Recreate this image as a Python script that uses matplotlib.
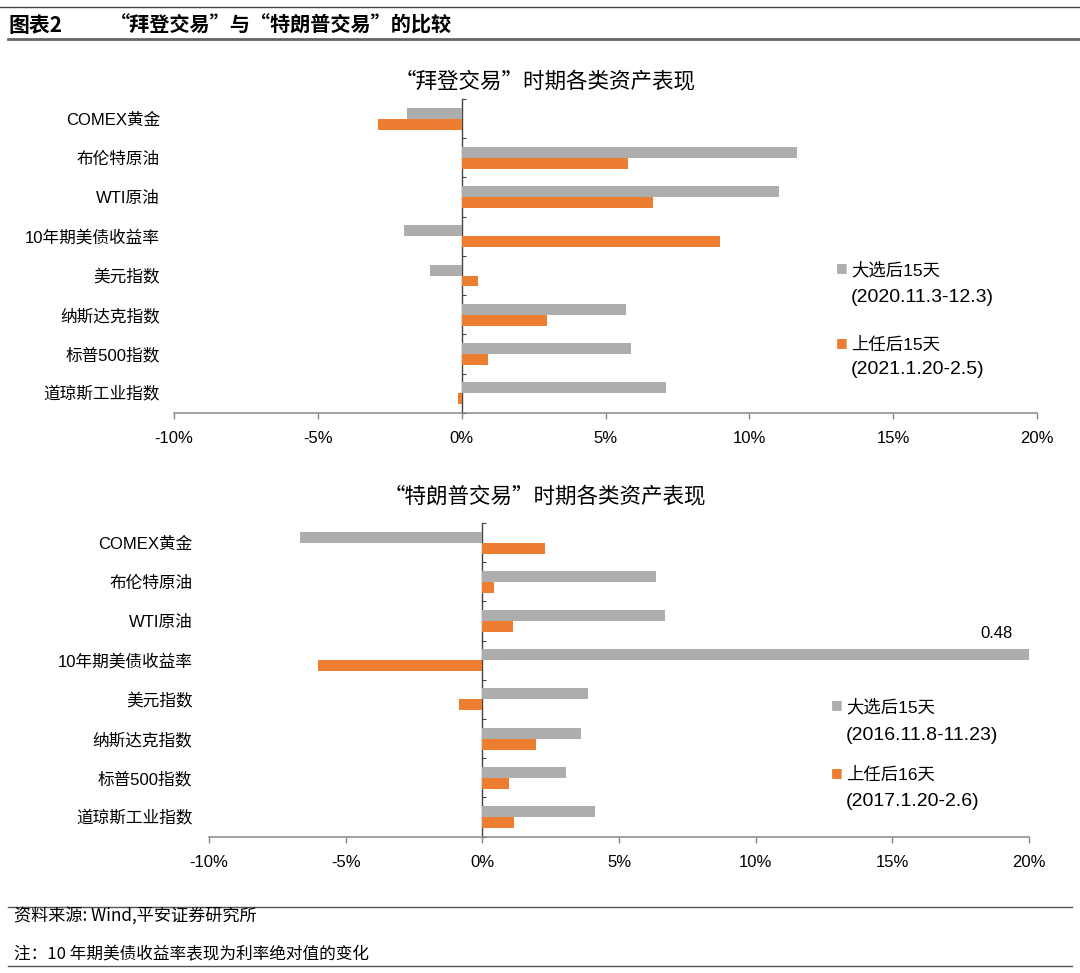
import matplotlib
matplotlib.use("Agg")
import matplotlib.pyplot as plt
from matplotlib.ticker import PercentFormatter

plt.rcParams['font.family'] = ['Liberation Sans', 'Noto Sans CJK SC']
plt.rcParams['axes.unicode_minus'] = False

# --- datos ---
categorias = ['COMEX黄金', '布伦特原油', 'WTI原油', '10年期美债收益率',
              '美元指数', '纳斯达克指数', '标普500指数', '道琼斯工业指数']

# "拜登交易"
biden_daxuan = [-0.019, 0.1167, 0.1104, -0.020, -0.011, 0.057, 0.059, 0.0712]
biden_shangren = [-0.029, 0.0579, 0.0666, 0.0899, 0.0058, 0.0297, 0.009, -0.0013]

# "特朗普交易"
trump_daxuan = [-0.0667, 0.0634, 0.0667, 0.48, 0.0388, 0.0362, 0.0305, 0.0412]
trump_shangren = [0.0228, 0.0043, 0.0114, -0.060, -0.0087, 0.0195, 0.0096, 0.0116]

titulos = ['“拜登交易”时期各类资产表现', '“特朗普交易”时期各类资产表现']
leyendas = [('大选后15天', '(2020.11.3-12.3)', '上任后15天', '(2021.1.20-2.5)'),
            ('大选后15天', '(2016.11.8-11.23)', '上任后16天', '(2017.1.20-2.6)')]

GRIS = '#ADADAD'
NARANJA = '#ED7D31'
XMIN, XMAX = -0.10, 0.20

W, H = 1080, 973
fig = plt.figure(figsize=(W / 100, H / 100), dpi=100)


def fx(px):
    return px / W


def fy(py):
    return 1 - py / H


def panel(rect_px, serie1, serie2, titulo, ley, title_y, ley_px, lab_pad):
    l, t, r, b = rect_px
    ax = fig.add_axes([fx(l), fy(b), (r - l) / W, (b - t) / H])
    y = list(range(len(categorias)))
    h = 0.28
    ax.barh([v - h / 2 for v in y], serie1, height=h, color=GRIS)
    ax.barh([v + h / 2 for v in y], serie2, height=h, color=NARANJA)
    ax.set_xlim(XMIN, XMAX)
    ax.set_ylim(len(categorias) - 0.5, -0.5)
    ax.xaxis.set_major_formatter(PercentFormatter(1.0, decimals=0))
    ax.set_xticks([-0.10, -0.05, 0, 0.05, 0.10, 0.15, 0.20])
    ax.tick_params(axis='x', labelsize=12, length=4, width=1, color='#888888', pad=9)
    ax.set_yticks(y)
    ax.set_yticklabels(categorias)
    ax.tick_params(axis='y', labelsize=12, length=0, pad=lab_pad)
    for s in ['top', 'right', 'left']:
        ax.spines[s].set_visible(False)
    ax.spines['bottom'].set_color('#888888')
    ax.spines['bottom'].set_linewidth(1.1)

    # eje vertical en cero
    pos0 = (0 - XMIN) / (XMAX - XMIN)
    sec = ax.secondary_yaxis(pos0)
    sec.set_yticks([v - 0.5 for v in y] + [len(y) - 0.5])
    sec.set_yticklabels([])
    sec.tick_params(direction='in', length=3, width=0.8, color='#444444')
    sec.spines['left'].set_color('#444444')
    sec.spines['left'].set_linewidth(1.0)

    # valores fuera de escala
    for i, v in enumerate(serie1):
        if v > XMAX:
            ax.annotate(f'{v:.2f}', xy=(XMAX, i - h / 2), xytext=(-11.5, 15),
                        textcoords='offset points', ha='right', va='center', fontsize=12)

    fig.text(fx(545), fy(title_y), titulo, ha='center', va='center', fontsize=15.5,
             family=['Noto Sans CJK SC', 'DejaVu Sans'])

    # leyenda
    sx, tx, y1, y2, y3, y4 = ley_px
    fig.text(fx(sx), fy(y1), '■', color=GRIS, ha='center', va='center', fontsize=9,
             family=['DejaVu Sans'])
    fig.text(fx(sx), fy(y3), '■', color=NARANJA, ha='center', va='center', fontsize=9,
             family=['DejaVu Sans'])
    fig.text(fx(tx), fy(y1 + 2), ley[0], ha='left', va='center', fontsize=12.5)
    fig.text(fx(tx), fy(y2), ley[1], ha='left', va='center', fontsize=14)
    fig.text(fx(tx), fy(y3 + 2), ley[2], ha='left', va='center', fontsize=12.5)
    fig.text(fx(tx), fy(y4), ley[3], ha='left', va='center', fontsize=14)
    return ax


panel((174, 99, 1037, 412.8), biden_daxuan, biden_shangren, titulos[0], leyendas[0],
      82, (842, 851, 268, 297, 343, 370), 10)
panel((209, 523, 1029, 836.6), trump_daxuan, trump_shangren, titulos[1], leyendas[1],
      497, (837, 846, 705, 735, 773, 802), 12)

# --- encabezado y pie ---
fig.add_artist(plt.Line2D([0, 1], [fy(7), fy(7)], color='#444444', lw=1.0))
fig.add_artist(plt.Line2D([fx(8), 1], [fy(39), fy(39)], color='#666666', lw=2.0))
fig.text(fx(8), fy(25), '图表2', fontsize=15, fontweight='bold', va='center',
         family=['Noto Sans CJK SC', 'DejaVu Sans'])
fig.text(fx(110), fy(25), '“拜登交易”与“特朗普交易”的比较', fontsize=14.5, fontweight='bold',
         va='center', family=['Noto Sans CJK SC', 'DejaVu Sans'])

fig.add_artist(plt.Line2D([fx(8), fx(1072)], [fy(907), fy(907)], color='#555555', lw=1.0))
fig.add_artist(plt.Line2D([fx(8), fx(1072)], [fy(966), fy(966)], color='#555555', lw=1.0))
fig.text(fx(14), fy(917), '资料来源: Wind,平安证券研究所', fontsize=12.3, va='center',
         style='italic', family=['Noto Sans CJK SC', 'DejaVu Sans'])
fig.text(fx(14), fy(955), '注：10 年期美债收益率表现为利率绝对值的变化', fontsize=12,
         va='center', style='italic', family=['Noto Sans CJK SC', 'DejaVu Sans'])

fig.savefig('out.png', dpi=100)
